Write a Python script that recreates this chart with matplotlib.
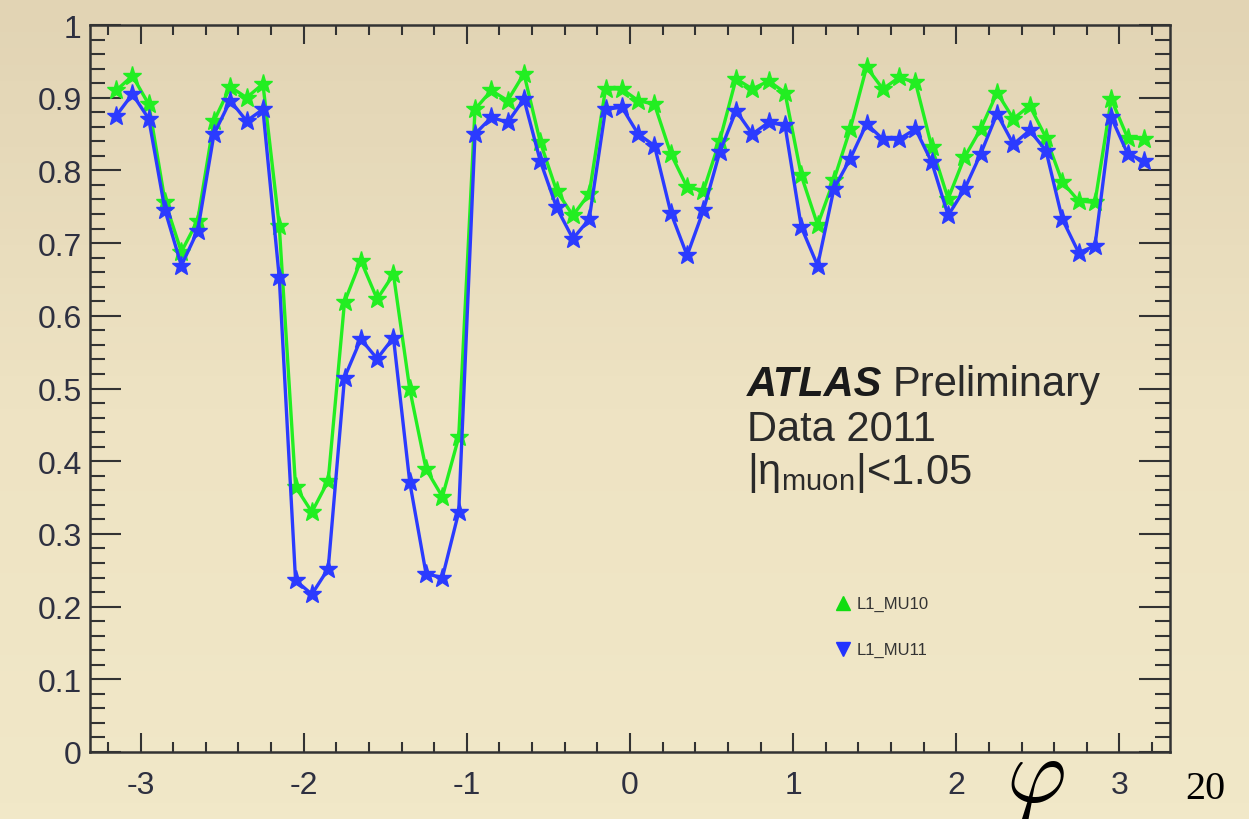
import numpy as np
import matplotlib.pyplot as plt
from matplotlib.ticker import MultipleLocator, FuncFormatter

plt.rcParams['font.family'] = ['Liberation Sans', 'DejaVu Sans']
plt.rcParams['axes.unicode_minus'] = False
plt.rcParams['mathtext.fontset'] = 'custom'
plt.rcParams['mathtext.rm'] = 'Liberation Sans'
plt.rcParams['mathtext.it'] = 'Liberation Sans:italic'

# phi bin centres (64 bins of 0.1 between -3.2 and 3.2)
phi = np.linspace(-3.15, 3.15, 64)

# trigger efficiency, L1_MU10 (green) and L1_MU11 (blue)
eff_mu10 = [0.910, 0.930, 0.891, 0.757, 0.688, 0.731, 0.868, 0.915, 0.900, 0.919,
            0.724, 0.365, 0.330, 0.373, 0.619, 0.676, 0.623, 0.657, 0.499, 0.389,
            0.351, 0.433, 0.884, 0.910, 0.896, 0.933, 0.839, 0.772, 0.738, 0.768,
            0.912, 0.912, 0.896, 0.891, 0.823, 0.777, 0.772, 0.841, 0.926, 0.912,
            0.923, 0.907, 0.793, 0.725, 0.787, 0.857, 0.942, 0.912, 0.928, 0.921,
            0.832, 0.761, 0.818, 0.857, 0.907, 0.871, 0.889, 0.845, 0.784, 0.758,
            0.756, 0.898, 0.845, 0.843]
eff_mu11 = [0.875, 0.905, 0.871, 0.745, 0.669, 0.717, 0.850, 0.896, 0.868, 0.884,
            0.653, 0.236, 0.217, 0.252, 0.515, 0.568, 0.541, 0.570, 0.371, 0.245,
            0.240, 0.330, 0.850, 0.873, 0.866, 0.898, 0.813, 0.749, 0.706, 0.733,
            0.884, 0.887, 0.850, 0.834, 0.742, 0.683, 0.745, 0.825, 0.882, 0.850,
            0.866, 0.862, 0.722, 0.669, 0.775, 0.816, 0.864, 0.843, 0.843, 0.857,
            0.811, 0.738, 0.774, 0.823, 0.878, 0.836, 0.855, 0.827, 0.733, 0.687,
            0.696, 0.873, 0.823, 0.813]

W, H = 1249, 820
fig = plt.figure(figsize=(W / 100, H / 100), dpi=100)
fig.patch.set_facecolor('#ede2c2')

# parchment-like background, a bit darker towards the top
bg = fig.add_axes([0, 0, 1, 1], zorder=-10)
shade = np.linspace(0, 1, 50).reshape(-1, 1)
bg.imshow(shade, cmap=plt.matplotlib.colors.LinearSegmentedColormap.from_list(
    'paper', ['#e2d4b4', '#eee3c3', '#f1e8c8']), aspect='auto', extent=[0, 1, 0, 1])
bg.axis('off')

ax = fig.add_axes([90 / W, 1 - 753 / H, 1080 / W, 727 / H])
ax.patch.set_alpha(0)

ax.plot(phi, eff_mu10, '-*', color='#22ee22', lw=2.4, ms=14, mec='#22ee22', zorder=3)
ax.plot(phi, eff_mu11, '-*', color='#2b3bff', lw=2.4, ms=14, mec='#2b3bff', zorder=4)

ax.set_xlim(-3.31, 3.31)
ax.set_ylim(0, 1)

ax.xaxis.set_major_locator(MultipleLocator(1))
ax.xaxis.set_minor_locator(MultipleLocator(0.2))
ax.yaxis.set_major_locator(MultipleLocator(0.1))
ax.yaxis.set_minor_locator(MultipleLocator(0.02))
ax.yaxis.set_major_formatter(FuncFormatter(lambda v, p: '%g' % round(v, 2)))
ax.xaxis.set_major_formatter(FuncFormatter(lambda v, p: '%g' % round(v, 2)))

for s in ax.spines.values():
    s.set_linewidth(1.8)
    s.set_color('#333333')

ax.tick_params(axis='both', which='both', direction='in', top=True, right=True,
               color='#333333', width=1.5, labelcolor='#2e3040', labelsize=23)
ax.tick_params(axis='x', which='major', length=14, pad=13)
ax.tick_params(axis='x', which='minor', length=7)
ax.tick_params(axis='y', which='major', length=22, pad=6)
ax.tick_params(axis='y', which='minor', length=11)

# labels
fig.text(747 / W, 1 - 396 / H, 'ATLAS', fontsize=30, fontweight='bold', fontstyle='italic',
         color='#1a1a1a')
fig.text(893 / W, 1 - 396 / H, 'Preliminary', fontsize=30, color='#2a2a2a')
fig.text(747 / W, 1 - 441 / H, 'Data 2011', fontsize=30, color='#2a2a2a')
fig.text(747 / W, 1 - 484 / H, r'$|\mathrm{η}_{\mathrm{muon}}|$<1.05', fontsize=30,
         color='#2a2a2a')

# legend
ax_leg = fig.add_axes([0, 0, 1, 1], zorder=5)
ax_leg.set_xlim(0, W)
ax_leg.set_ylim(H, 0)
ax_leg.axis('off')
ax_leg.plot([843], [604], marker='^', color='#11dd11', ms=10, ls='none')
ax_leg.plot([843], [650], marker='v', color='#2233ff', ms=10, ls='none')
ax_leg.text(857, 604, 'L1_MU10', fontsize=12, va='center', color='#333333')
ax_leg.text(857, 650, 'L1_MU11', fontsize=12, va='center', color='#333333')

# slide annotations
ax_leg.text(1035, 781, r'$\varphi$', fontsize=66, ha='center', va='center', color='black',
            math_fontfamily='cm')
ax_leg.text(1205, 790, '20', fontsize=29, ha='center', va='center',
            family='Liberation Serif', color='black')

fig.savefig('out.png', dpi=100, facecolor=fig.get_facecolor())
